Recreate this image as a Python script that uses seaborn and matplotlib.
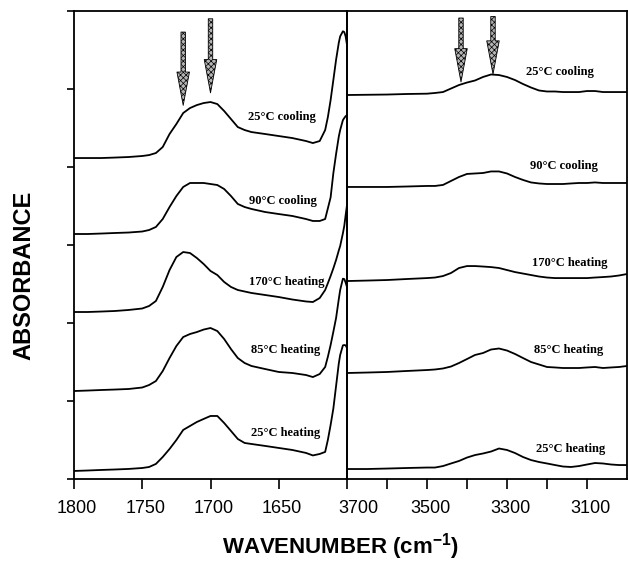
import matplotlib
matplotlib.use("Agg")
import matplotlib.pyplot as plt
import matplotlib.transforms as mtransforms
import seaborn as sns
import pandas as pd

# ---------------- data ----------------
left_wn = [1800, 1790, 1780, 1770, 1760, 1750, 1745, 1740, 1735, 1730, 1725, 1720,
           1715, 1710, 1705, 1700, 1695, 1690, 1685, 1680, 1675, 1670, 1660, 1650,
           1640, 1630, 1625, 1620, 1616, 1614, 1612, 1610, 1608, 1606, 1605, 1603, 1602, 1601, 1600]

left_25_cooling = [0, 0, 0, 0.006, 0.013, 0.026, 0.038, 0.064, 0.141, 0.308, 0.436, 0.577,
                   0.641, 0.679, 0.705, 0.718, 0.692, 0.603, 0.500, 0.397, 0.359, 0.333, 0.308, 0.282,
                   0.256, 0.218, 0.192, 0.218, 0.359, 0.526, 0.744, 1.000, 1.260, 1.480, 1.560, 1.625, 1.615, 1.560, 1.450]
left_90_cooling = [0, 0, 0.006, 0.013, 0.019, 0.032, 0.051, 0.090, 0.192, 0.346, 0.487, 0.603,
                   0.654, 0.654, 0.654, 0.641, 0.628, 0.577, 0.487, 0.385, 0.346, 0.321, 0.282, 0.256,
                   0.231, 0.192, 0.167, 0.167, 0.192, 0.330, 0.470, 0.780, 1.026, 1.250, 1.333, 1.460, 1.487, 1.510, 1.526]
left_170_heating = [0, 0, 0.006, 0.013, 0.026, 0.045, 0.077, 0.141, 0.321, 0.538, 0.705, 0.769,
                    0.756, 0.692, 0.615, 0.526, 0.474, 0.385, 0.321, 0.282, 0.263, 0.244, 0.218, 0.192,
                    0.160, 0.135, 0.128, 0.179, 0.282, 0.370, 0.462, 0.560, 0.667, 0.790, 0.846, 1.010, 1.103, 1.240, 1.372]
left_85_heating = [0, 0.006, 0.013, 0.019, 0.026, 0.045, 0.077, 0.128, 0.256, 0.423, 0.577, 0.692,
                   0.731, 0.756, 0.788, 0.808, 0.769, 0.667, 0.538, 0.423, 0.359, 0.321, 0.282, 0.244,
                   0.231, 0.205, 0.179, 0.218, 0.308, 0.440, 0.590, 0.760, 0.936, 1.180, 1.295, 1.440, 1.436, 1.390, 1.333]
left_25_heating = [0, 0.006, 0.013, 0.019, 0.026, 0.038, 0.051, 0.090, 0.179, 0.282, 0.397, 0.526,
                   0.577, 0.628, 0.667, 0.705, 0.705, 0.615, 0.513, 0.410, 0.359, 0.346, 0.321, 0.295,
                   0.269, 0.231, 0.199, 0.218, 0.244, 0.400, 0.590, 0.800, 1.090, 1.380, 1.487, 1.610, 1.615, 1.610, 1.577]

right_wn = [3700, 3650, 3600, 3550, 3500, 3480, 3460, 3440, 3420, 3400, 3380, 3360, 3340,
            3320, 3300, 3280, 3260, 3240, 3220, 3200, 3180, 3160, 3140, 3120, 3100, 3080,
            3060, 3040, 3020, 3000]

right_25_cooling = [0, 0.003, 0.006, 0.013, 0.017, 0.026, 0.038, 0.083, 0.128, 0.160, 0.186, 0.231, 0.263,
                    0.256, 0.231, 0.192, 0.141, 0.096, 0.058, 0.045, 0.045, 0.038, 0.038, 0.038, 0.051, 0.051,
                    0.038, 0.038, 0.038, 0.038]
right_90_cooling = [0, 0, 0, 0.006, 0.013, 0.013, 0.026, 0.077, 0.128, 0.167, 0.173, 0.179, 0.199,
                    0.199, 0.173, 0.128, 0.090, 0.058, 0.045, 0.038, 0.038, 0.038, 0.045, 0.051, 0.051, 0.058,
                    0.051, 0.051, 0.051, 0.051]
right_170_heating = [0, 0.006, 0.013, 0.026, 0.038, 0.045, 0.064, 0.103, 0.167, 0.192, 0.192, 0.186, 0.179,
                     0.167, 0.141, 0.115, 0.096, 0.077, 0.058, 0.045, 0.038, 0.038, 0.038, 0.038, 0.038, 0.045,
                     0.051, 0.058, 0.071, 0.090]
right_85_heating = [0, 0.006, 0.013, 0.026, 0.038, 0.045, 0.058, 0.083, 0.128, 0.179, 0.231, 0.256, 0.301,
                    0.314, 0.288, 0.244, 0.192, 0.141, 0.109, 0.077, 0.071, 0.064, 0.064, 0.064, 0.071, 0.077,
                    0.064, 0.071, 0.077, 0.090]
right_25_heating = [0, 0, 0.006, 0.013, 0.019, 0.019, 0.038, 0.071, 0.103, 0.147, 0.179, 0.199, 0.224,
                    0.263, 0.244, 0.205, 0.154, 0.115, 0.090, 0.071, 0.051, 0.032, 0.026, 0.038, 0.058, 0.077,
                    0.071, 0.058, 0.051, 0.051]

series_labels = ["25°C cooling", "90°C cooling", "170°C heating", "85°C heating", "25°C heating"]
left_offsets = [4.115, 3.141, 2.141, 1.128, 0.103]
right_offsets = [4.923, 3.744, 2.538, 1.359, 0.128]

left_ticks = [1800, 1750, 1700, 1650]
right_ticks = [3700, 3600, 3500, 3400, 3300, 3200, 3100]
right_tick_labels = ["3700", "", "3500", "", "3300", "", "3100"]

left_arrows_wn = [1720, 1700]
right_arrows_wn = [3415, 3335]

# ---------------- styling ----------------
sns.set_theme(style="ticks")
plt.rcParams["font.family"] = ["Liberation Sans", "DejaVu Sans"]
plt.rcParams["mathtext.fontset"] = "custom"
plt.rcParams["mathtext.rm"] = "Liberation Sans:bold"
plt.rcParams["mathtext.bf"] = "Liberation Sans:bold"
plt.rcParams["mathtext.it"] = "Liberation Sans:bold"
plt.rcParams["hatch.linewidth"] = 0.5

W, H = 628, 563
fig = plt.figure(figsize=(W / 100, H / 100), dpi=100)
ax_l = fig.add_axes([74 / W, 1 - 479 / H, 273 / W, 468 / H])
ax_r = fig.add_axes([347 / W, 1 - 479 / H, 280 / W, 468 / H])

left_series = [left_25_cooling, left_90_cooling, left_170_heating, left_85_heating, left_25_heating]
right_series = [right_25_cooling, right_90_cooling, right_170_heating, right_85_heating, right_25_heating]

rows = []
for name, vals, off in zip(series_labels, left_series, left_offsets):
    for w, v in zip(left_wn, vals):
        rows.append({"panel": "L", "series": name, "wn": w, "abs": v + off})
for name, vals, off in zip(series_labels, right_series, right_offsets):
    for w, v in zip(right_wn, vals):
        rows.append({"panel": "R", "series": name, "wn": w, "abs": v + off})
df = pd.DataFrame(rows)

for ax, panel in [(ax_l, "L"), (ax_r, "R")]:
    for name in series_labels:
        d = df[(df.panel == panel) & (df.series == name)]
        sns.lineplot(data=d, x="wn", y="abs", ax=ax, color="black", lw=1.3,
                     sort=False, estimator=None, legend=False,
                     solid_joinstyle="round", solid_capstyle="round")
    ax.set_ylim(0, 6)
    ax.set_xlabel("")
    ax.set_ylabel("")
    for s in ax.spines.values():
        s.set_visible(True)
        s.set_color("black")
        s.set_linewidth(1.3)
    ax.patch.set_alpha(0)

ax_l.set_xlim(1800, 1600)
ax_r.set_xlim(3700, 3000)
ax_l.set_xticks(left_ticks)
ax_l.set_xticklabels([str(t) for t in left_ticks])
ax_r.set_xticks(right_ticks)
ax_r.set_xticklabels(right_tick_labels)
ax_l.set_yticks(range(0, 7))
ax_l.set_yticklabels([])
ax_r.set_yticks([])
for ax in (ax_l, ax_r):
    ax.tick_params(axis="x", direction="out", length=7, width=1.2, color="black",
                   labelsize=13, pad=8, labelcolor="black")
    ax.tick_params(axis="y", direction="out", length=5, width=1.2, color="black")

# shift tick labels slightly right like the scan
for ax in (ax_l, ax_r):
    for lab in ax.get_xticklabels():
        dx = 3 / 100
        if lab.get_text() == "3700":
            dx = 11 / 100
        lab.set_transform(lab.get_transform() + mtransforms.ScaledTranslation(dx, 0, fig.dpi_scale_trans))

# series labels
left_label_pos = [(1648, 4.64), (1647, 3.56), (1644, 2.53), (1645, 1.65), (1645, 0.59)]
right_label_pos = [(3167, 5.22), (3157, 4.01), (3142, 2.77), (3147, 1.65), (3140, 0.38)]
for ax, poss in [(ax_l, left_label_pos), (ax_r, right_label_pos)]:
    for name, (x, y) in zip(series_labels, poss):
        ax.text(x, y, name, ha="center", va="center", fontsize=9, fontweight="bold",
                family=["Liberation Serif", "DejaVu Serif"], color="black")

# arrows
arrow_kw = dict(arrowstyle="simple,head_length=2.4,head_width=0.9,tail_width=0.32",
                mutation_scale=10, fc="#b5b5b5", ec="black", lw=0.6, hatch="xxxxxx",
                shrinkA=0, shrinkB=0)
left_arrow_y = [(5.73, 4.79), (5.90, 4.95)]
right_arrow_y = [(5.91, 5.09), (5.93, 5.19)]
for ax, wns, ys in [(ax_l, left_arrows_wn, left_arrow_y), (ax_r, right_arrows_wn, right_arrow_y)]:
    for w, (y0, y1) in zip(wns, ys):
        ax.annotate("", xy=(w, y1), xytext=(w, y0), arrowprops=arrow_kw)

fig.text(24 / W, 1 - 275 / H, "ABSORBANCE", rotation=90, ha="center", va="center",
         fontsize=17, fontweight="bold", color="black")
fig.text(340 / W, 1 - 554 / H, r"WAVENUMBER (cm$^{\mathbf{-1}}$)", ha="center", va="baseline",
         fontsize=16, fontweight="bold", color="black")

fig.savefig("out.png", dpi=100, facecolor="white")
